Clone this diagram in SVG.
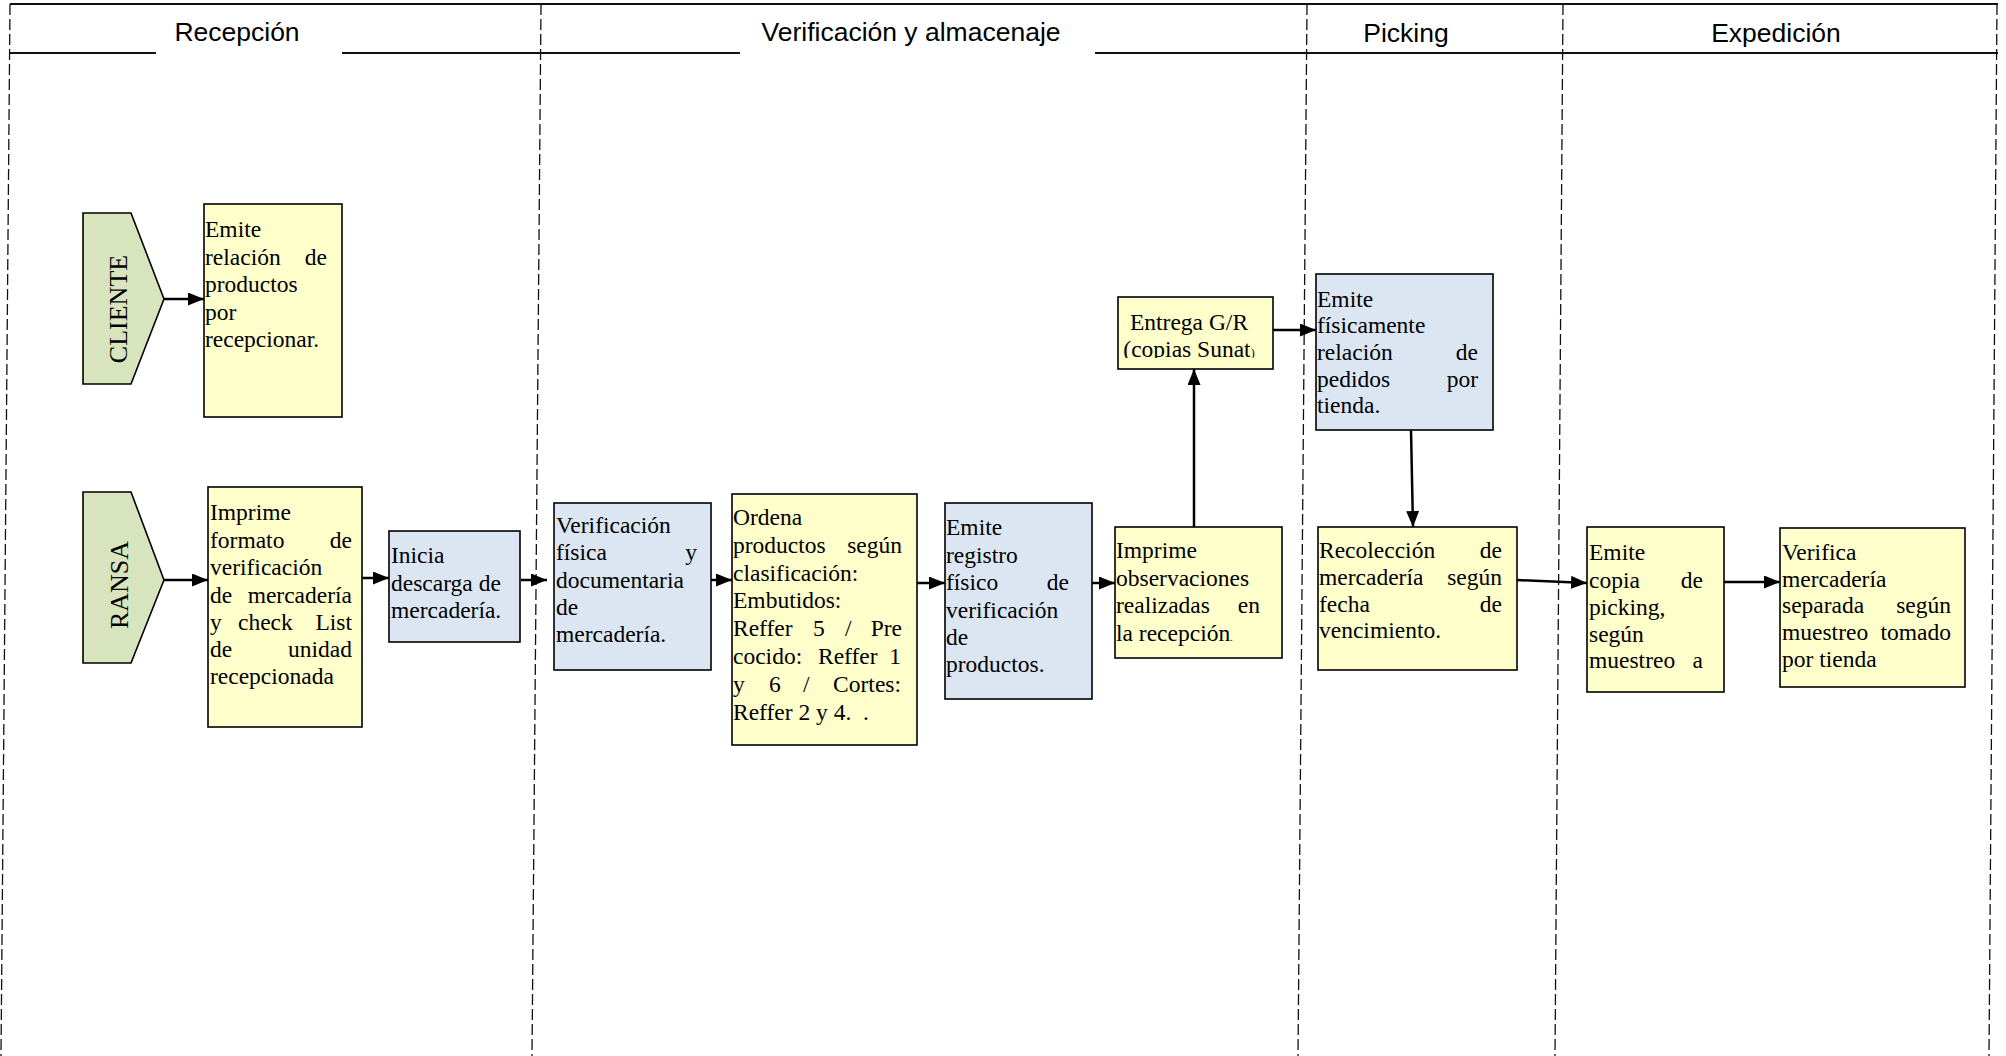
<svg xmlns="http://www.w3.org/2000/svg" width="2006" height="1056" viewBox="0 0 2006 1056">
<style>
.t{font-family:"Liberation Serif","Times New Roman",serif;font-size:23.5px;fill:#000}
.e{text-anchor:end}
.m{text-anchor:middle}
.h{font-family:"Liberation Sans",Arial,sans-serif;font-size:26.5px;fill:#000;text-anchor:middle}
.lane{font-family:"Liberation Serif","Times New Roman",serif;font-size:26px;fill:#000;text-anchor:middle}
.y{fill:#FFFFCC;stroke:#000;stroke-width:1.6}
.b{fill:#DCE6F2;stroke:#000;stroke-width:1.6}
.g{fill:#D7E4BD;stroke:#000;stroke-width:1.6}
.c{stroke:#000;stroke-width:2.5;fill:none;marker-end:url(#ah)}
.d{stroke:#111;stroke-width:1.3;stroke-dasharray:11 4;fill:none}
.hl{stroke:#111;stroke-width:2;fill:none}
</style>
<defs>
<marker id="ah" markerWidth="16" markerHeight="13" refX="16" refY="6.5" orient="auto" markerUnits="userSpaceOnUse"><path d="M0,0 L16,6.5 L0,13 z" fill="#000"/></marker>
<clipPath id="clipGR"><rect x="1118" y="297" width="155" height="61"/></clipPath>
</defs>
<rect width="2006" height="1056" fill="#fff"/>

<g id="frame">
<line class="hl" x1="10" y1="4" x2="1998" y2="4"/>
<line class="hl" x1="10" y1="53" x2="156" y2="53"/>
<line class="hl" x1="342" y1="53" x2="740" y2="53"/>
<line class="hl" x1="1095" y1="53" x2="1998" y2="53"/>
<line class="d" x1="10" y1="4" x2="1" y2="1056"/>
<line class="d" x1="541" y1="4" x2="532" y2="1056"/>
<line class="d" x1="1307" y1="4" x2="1298" y2="1056"/>
<line class="d" x1="1563" y1="4" x2="1555" y2="1056"/>
<line class="d" x1="1997" y1="4" x2="1989" y2="1056"/>
<text class="h" x="237" y="41">Recepción</text>
<text class="h" x="911" y="41">Verificación y almacenaje</text>
<text class="h" x="1406" y="42">Picking</text>
<text class="h" x="1776" y="42">Expedición</text>
</g>

<g id="connectors">
<line class="c" x1="164" y1="299" x2="204" y2="299"/>
<line class="c" x1="164" y1="580" x2="208" y2="580"/>
<line class="c" x1="362" y1="578" x2="389" y2="578"/>
<line class="c" x1="521" y1="580" x2="547" y2="580"/>
<line class="c" x1="711" y1="580" x2="732" y2="580"/>
<line class="c" x1="917" y1="583" x2="945" y2="583"/>
<line class="c" x1="1092" y1="583" x2="1115" y2="583"/>
<line class="c" x1="1194" y1="527" x2="1194" y2="369"/>
<line class="c" x1="1273" y1="330" x2="1316" y2="330"/>
<line class="c" x1="1411" y1="430" x2="1413" y2="527"/>
<line class="c" x1="1517" y1="580" x2="1587" y2="583"/>
<line class="c" x1="1724" y1="582" x2="1780" y2="582"/>
</g>

<g id="cliente">
<polygon class="g" points="83,213 131,213 164,299 131,384 83,384"/>
<text class="lane" transform="translate(127,309) rotate(-90)">CLIENTE</text>
</g>

<g id="ransa">
<polygon class="g" points="83,492 131,492 164,580 131,663 83,663"/>
<text class="lane" transform="translate(128,585) rotate(-90)">RANSA</text>
</g>

<g id="emite-relacion">
<rect class="y" x="204" y="204" width="138" height="213"/>
<text class="t" x="205" y="237">Emite</text>
<text class="t" x="205" y="264.5">relación</text><text class="t e" x="327" y="264.5">de</text>
<text class="t" x="205" y="292">productos</text>
<text class="t" x="205" y="319.5">por</text>
<text class="t" x="205" y="347">recepcionar.</text>
</g>

<g id="imprime-formato">
<rect class="y" x="208" y="487" width="154" height="240"/>
<text class="t" x="210" y="520">Imprime</text>
<text class="t" x="210" y="547.5">formato</text><text class="t e" x="352" y="547.5">de</text>
<text class="t" x="210" y="575">verificación</text>
<text class="t" x="210" y="602.5">de</text><text class="t e" x="352" y="602.5">mercadería</text>
<text class="t" x="210" y="630">y</text><text class="t" x="238" y="630">check</text><text class="t e" x="352" y="630">List</text>
<text class="t" x="210" y="657">de</text><text class="t e" x="352" y="657">unidad</text>
<text class="t" x="210" y="684">recepcionada</text>
</g>

<g id="inicia-descarga">
<rect class="b" x="389" y="531" width="131" height="111"/>
<text class="t" x="391" y="563">Inicia</text>
<text class="t" x="391" y="590.5">descarga de</text>
<text class="t" x="391" y="618">mercadería.</text>
</g>

<g id="verificacion-fisica">
<rect class="b" x="554" y="503" width="157" height="167"/>
<text class="t" x="556" y="533">Verificación</text>
<text class="t" x="556" y="560.3">física</text><text class="t e" x="697" y="560.3">y</text>
<text class="t" x="556" y="587.6">documentaria</text>
<text class="t" x="556" y="614.9">de</text>
<text class="t" x="556" y="642.2">mercadería.</text>
</g>

<g id="ordena-productos">
<rect class="y" x="732" y="494" width="185" height="251"/>
<text class="t" x="733" y="525">Ordena</text>
<text class="t" x="733" y="552.8">productos</text><text class="t e" x="902" y="552.8">según</text>
<text class="t" x="733" y="580.6">clasificación:</text>
<text class="t" x="733" y="608.4">Embutidos:</text>
<text class="t" x="733" y="636.2">Reffer</text><text class="t" x="813" y="636.2">5</text><text class="t" x="845" y="636.2">/</text><text class="t e" x="902" y="636.2">Pre</text>
<text class="t" x="733" y="664">cocido:</text><text class="t" x="818" y="664">Reffer</text><text class="t e" x="901" y="664">1</text>
<text class="t" x="733" y="691.8">y</text><text class="t" x="769" y="691.8">6</text><text class="t" x="803" y="691.8">/</text><text class="t e" x="901" y="691.8">Cortes:</text>
<text class="t" x="733" y="719.6" xml:space="preserve">Reffer 2 y 4.  .</text>
</g>

<g id="emite-registro">
<rect class="b" x="945" y="503" width="147" height="196"/>
<text class="t" x="946" y="535">Emite</text>
<text class="t" x="946" y="562.5">registro</text>
<text class="t" x="946" y="590">físico</text><text class="t e" x="1069" y="590">de</text>
<text class="t" x="946" y="617.5">verificación</text>
<text class="t" x="946" y="645">de</text>
<text class="t" x="946" y="672">productos.</text>
</g>

<g id="imprime-observaciones">
<rect class="y" x="1115" y="527" width="167" height="131"/>
<text class="t" x="1116" y="558.3">Imprime</text>
<text class="t" x="1116" y="586">observaciones</text>
<text class="t" x="1116" y="613.3">realizadas</text><text class="t e" x="1260" y="613.3">en</text>
<text class="t" x="1116" y="640.7">la recepción<tspan font-size="10">.</tspan></text>
</g>

<g id="entrega-gr">
<rect class="y" x="1118" y="297" width="155" height="72"/>
<g clip-path="url(#clipGR)">
<text class="t m" x="1189" y="330">Entrega G/R</text>
<text class="t m" x="1189" y="357">(copias Sunat<tspan font-size="12">)</tspan></text>
</g>
</g>

<g id="emite-fisicamente">
<rect class="b" x="1316" y="274" width="177" height="156"/>
<text class="t" x="1317" y="306.7">Emite</text>
<text class="t" x="1317" y="333.3">físicamente</text>
<text class="t" x="1317" y="360">relación</text><text class="t e" x="1478" y="360">de</text>
<text class="t" x="1317" y="386.7">pedidos</text><text class="t e" x="1478" y="386.7">por</text>
<text class="t" x="1317" y="413.3">tienda.</text>
</g>

<g id="recoleccion">
<rect class="y" x="1318" y="527" width="199" height="143"/>
<text class="t" x="1319" y="558.3">Recolección</text><text class="t e" x="1502" y="558.3">de</text>
<text class="t" x="1319" y="585">mercadería</text><text class="t e" x="1502" y="585">según</text>
<text class="t" x="1319" y="611.7">fecha</text><text class="t e" x="1502" y="611.7">de</text>
<text class="t" x="1319" y="638.3">vencimiento.</text>
</g>

<g id="emite-copia">
<rect class="y" x="1587" y="527" width="137" height="165"/>
<text class="t" x="1589" y="560">Emite</text>
<text class="t" x="1589" y="588.3">copia</text><text class="t e" x="1703" y="588.3">de</text>
<text class="t" x="1589" y="615">picking,</text>
<text class="t" x="1589" y="641.7">según</text>
<text class="t" x="1589" y="668.3">muestreo</text><text class="t e" x="1703" y="668.3">a</text>
</g>

<g id="verifica-mercaderia">
<rect class="y" x="1780" y="528" width="185" height="159"/>
<text class="t" x="1782" y="560">Verifica</text>
<text class="t" x="1782" y="586.7">mercadería</text>
<text class="t" x="1782" y="613.3">separada</text><text class="t e" x="1951" y="613.3">según</text>
<text class="t" x="1782" y="640">muestreo</text><text class="t e" x="1951" y="640">tomado</text>
<text class="t" x="1782" y="666.7">por tienda</text>
</g>
</svg>
